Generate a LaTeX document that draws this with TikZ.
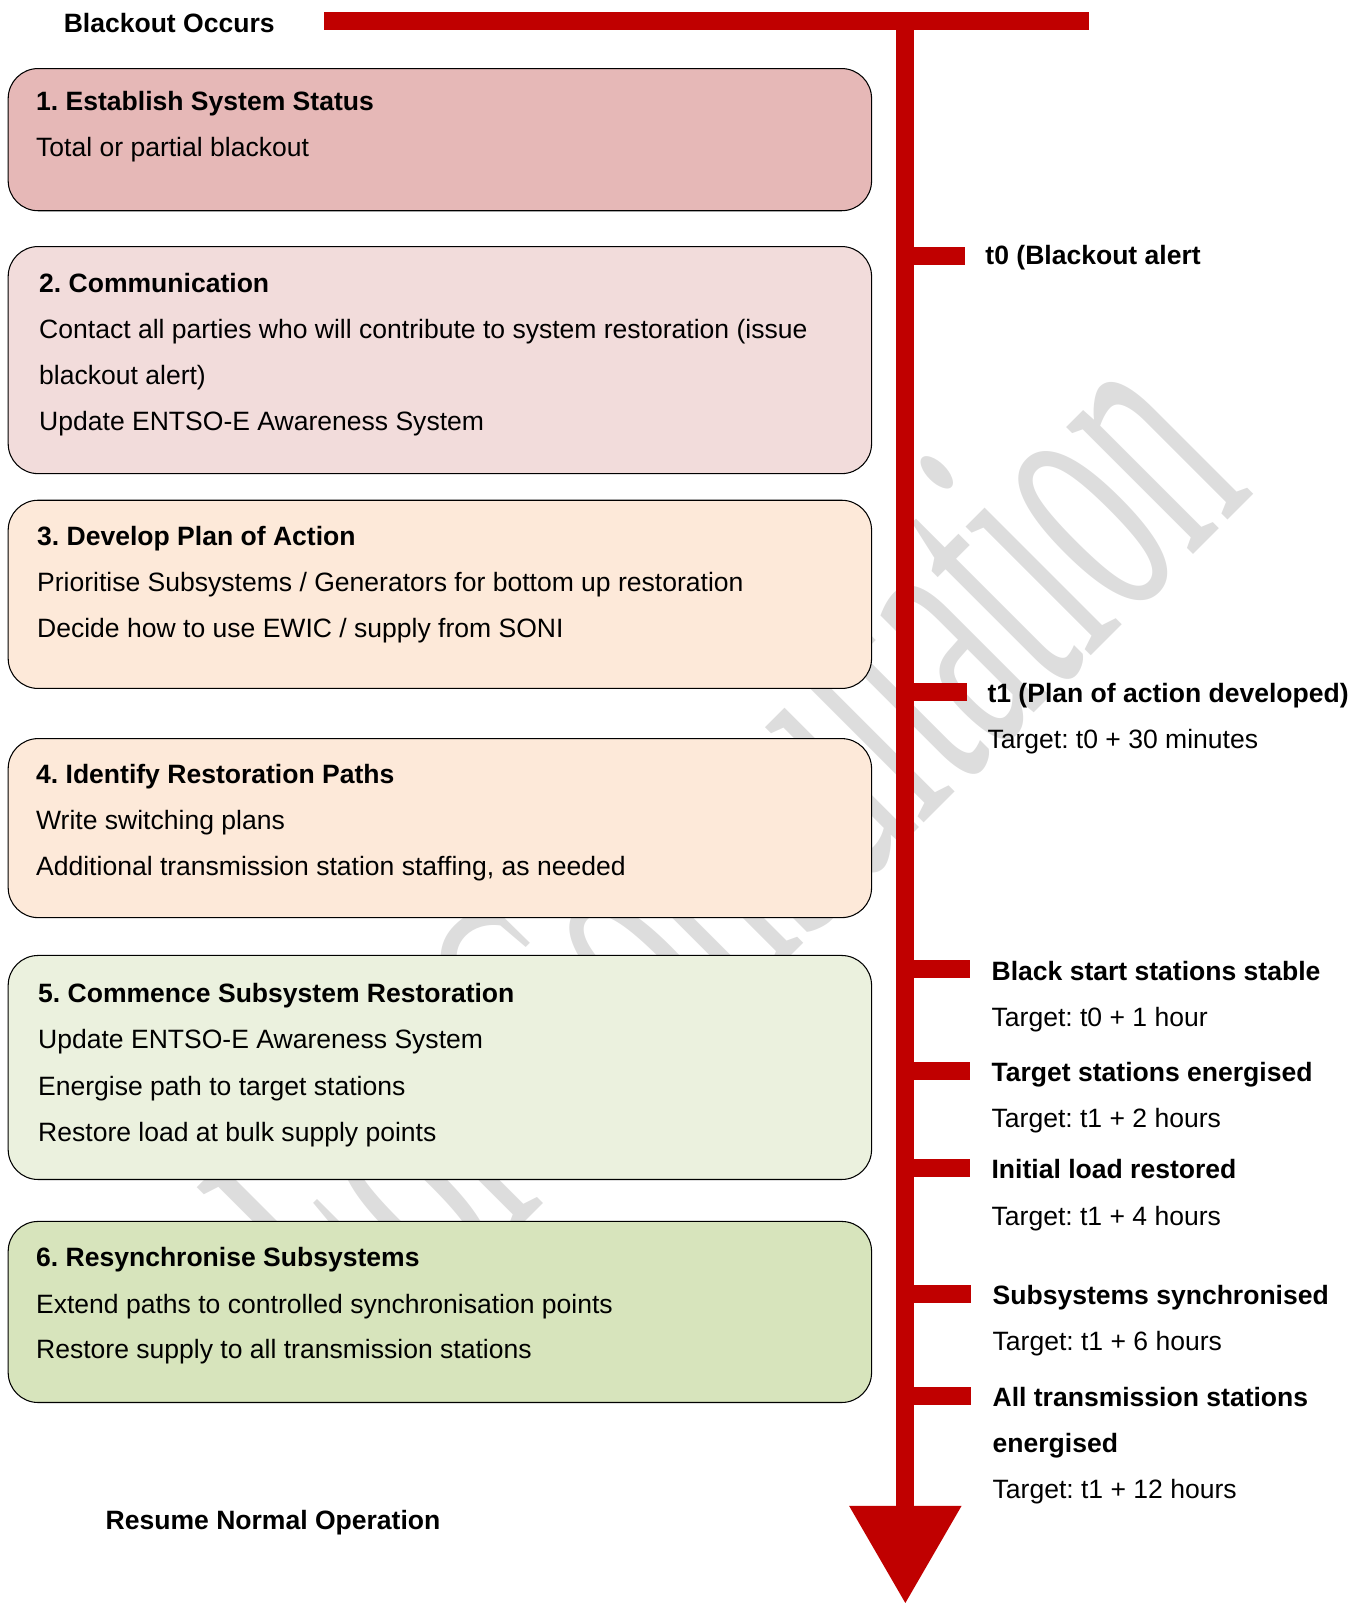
\documentclass[tikz,border=0pt]{standalone}
\usepackage{fontspec}
\setmainfont{Liberation Sans}
\newfontfamily\wmfont{Liberation Serif}
\usetikzlibrary{fit}
\definecolor{tlred}{HTML}{C00000}
\definecolor{wmgray}{HTML}{DDDDDD}
\definecolor{boxA}{HTML}{E6B8B7}
\definecolor{boxB}{HTML}{F2DCDB}
\definecolor{boxC}{HTML}{FDE9D9}
\definecolor{boxD}{HTML}{EBF1DE}
\definecolor{boxE}{HTML}{D7E4BC}
\tikzset{
  stepbox/.style={draw=black, line width=0.6pt, rounded corners=0.6cm, inner sep=0pt},
  head/.style={anchor=base west, inner sep=0pt, font=\fontsize{15.1}{18}\selectfont\bfseries},
  body/.style={anchor=base west, inner sep=0pt, font=\fontsize{15.1}{18}\selectfont},
  bar/.style={draw=tlred, line width=0.36cm},
}
\begin{document}
\frenchspacing
\begin{tikzpicture}[x=0.02046cm,y=-0.02046cm]
\useasboundingbox (0,0) rectangle (1330.4,1567);
% watermark
\node[anchor=base west, inner sep=0pt, text=wmgray, font=\wmfont\fontsize{105}{105}\selectfont,
      rotate=45, yscale=2.12, transform shape] (wm) at (366,1342) {For Consultation};
% steps
\node[stepbox, fill=boxA, fit={(8,67) (852,206)}] (box1) {};
\node[stepbox, fill=boxB, fit={(8,241) (852,463)}] (box2) {};
\node[stepbox, fill=boxC, fit={(8,489) (852,673)}] (box3) {};
\node[stepbox, fill=boxC, fit={(8,722) (852,897)}] (box4) {};
\node[stepbox, fill=boxD, fit={(8,934) (852,1153)}] (box5) {};
\node[stepbox, fill=boxE, fit={(8,1194) (852,1371)}] (box6) {};
\node[head] (h1) at (35,108) {1. Establish System Status};
\node[body] (l11) at (35,153) {Total or partial blackout};
\node[head] (h2) at (38,286) {2. Communication};
\node[body] (l21) at (38,331) {Contact all parties who will contribute to system restoration (issue};
\node[body] (l22) at (38,376) {blackout alert)};
\node[body] (l23) at (38,421) {Update ENTSO-E Awareness System};
\node[head] (h3) at (36,533) {3. Develop Plan of Action};
\node[body] (l31) at (36,578) {Prioritise Subsystems / Generators for bottom up restoration};
\node[body] (l32) at (36,623) {Decide how to use EWIC / supply from SONI};
\node[head] (h4) at (35,766) {4. Identify Restoration Paths};
\node[body] (l41) at (35,811) {Write switching plans};
\node[body] (l42) at (35,856) {Additional transmission station staffing, as needed};
\node[head] (h5) at (37,980) {5. Commence Subsystem Restoration};
\node[body] (l51) at (37,1025) {Update ENTSO-E Awareness System};
\node[body] (l52) at (37,1071) {Energise path to target stations};
\node[body] (l53) at (37,1116) {Restore load at bulk supply points};
\node[head] (h6) at (35,1238) {6. Resynchronise Subsystems};
\node[body] (l61) at (35,1284) {Extend paths to controlled synchronisation points};
\node[body] (l62) at (35,1328) {Restore supply to all transmission stations};
% timeline
\coordinate (barL) at (317,20.5);
\coordinate (barR) at (1065,20.5);
\coordinate (top) at (885,20.5);
\coordinate (arrL) at (830,1472);
\coordinate (arrR) at (940,1472);
\coordinate (tip) at (885,1567);
\coordinate (foot) at (885,1472);
\draw[bar] (barL) -- (barR);
\draw[bar] (top) -- (foot);
\fill[tlred] (arrL) -- (arrR) -- (tip) -- cycle;
\foreach \y/\e/\n in {250/943/t0, 676/945/t1, 947/948/m1, 1047/948/m2, 1142/948/m3, 1265/949/m4, 1365/949/m5}
  {\coordinate (\n a) at (885,\y);
   \coordinate (\n b) at (\e,\y);
   \draw[bar] (\n a) -- (\n b);}
\node[head] (start) at (62,32) {Blackout Occurs};
\node[head] (stop) at (103,1495) {Resume Normal Operation};
\node[head] (t0l) at (963,259) {t0 (Blackout alert};
\node[head] (t1l) at (965,687) {t1 (Plan of action developed)};
\node[body] (t1t) at (965,732) {Target: t0 + 30 minutes};
\node[head] (m1l) at (969,958) {Black start stations stable};
\node[body] (m1t) at (969,1003) {Target: t0 + 1 hour};
\node[head] (m2l) at (969,1057) {Target stations energised};
\node[body] (m2t) at (969,1102) {Target: t1 + 2 hours};
\node[head] (m3l) at (969,1152) {Initial load restored};
\node[body] (m3t) at (969,1198) {Target: t1 + 4 hours};
\node[head] (m4l) at (970,1275) {Subsystems synchronised};
\node[body] (m4t) at (970,1320) {Target: t1 + 6 hours};
\node[head] (m5l) at (970,1375) {All transmission stations};
\node[head] (m5m) at (970,1420) {energised};
\node[body] (m5t) at (970,1465) {Target: t1 + 12 hours};
\end{tikzpicture}
\end{document}
